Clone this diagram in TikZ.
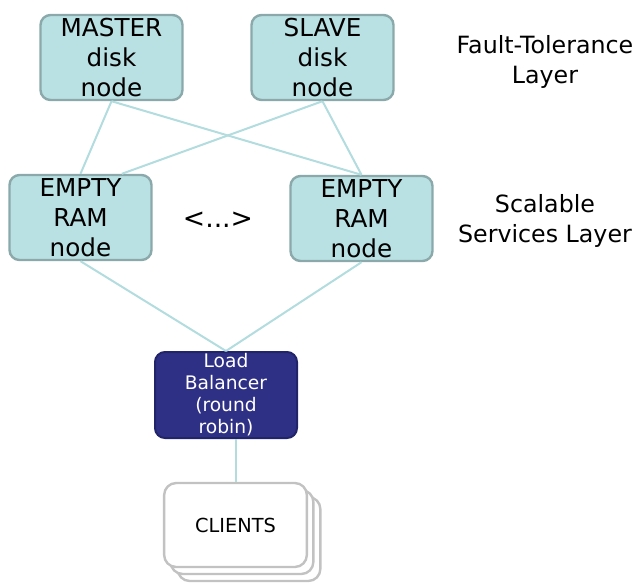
\documentclass[tikz,border=0pt]{standalone}
\usepackage{fontspec}
\setmainfont{DejaVu Sans}
\usetikzlibrary{calc}
\definecolor{boxfill}{HTML}{B9E0E2}
\definecolor{boxline}{HTML}{8BA9AB}
\definecolor{linkcol}{HTML}{B3DCDF}
\definecolor{lbfill}{HTML}{2E3085}
\definecolor{lbline}{HTML}{22246A}
\definecolor{clline}{HTML}{C2C2C2}
\tikzset{
  tealbox/.style={draw=boxline, fill=boxfill, line width=1.8pt, rounded corners=7.5pt,
    minimum width=106.5pt, minimum height=63.75pt, inner sep=0pt, align=center,
    font=\fontsize{18.5}{22.5}\selectfont},
  lbbox/.style={draw=lbline, fill=lbfill, line width=1.5pt, rounded corners=7.5pt,
    minimum width=106.5pt, minimum height=64.5pt, inner sep=0pt, align=center,
    text=white, font=\fontsize{14}{16.5}\selectfont},
  clientbox/.style={draw=clline, fill=white, line width=1.8pt, rounded corners=9pt,
    minimum width=107pt, minimum height=63pt, inner sep=0pt,
    font=\fontsize{14.5}{17}\selectfont},
  layerlabel/.style={align=center, inner sep=0pt, font=\fontsize{17.8}{22.5}\selectfont},
  link/.style={draw=linkcol, line width=1.5pt}
}
\begin{document}
\begin{tikzpicture}[x=0.75pt, y=-0.75pt]
		%%%%% START %%%%%
		\useasboundingbox (0, 0) rectangle (640, 583);
		
		\node[tealbox] (master) at (111.5, 57.5) {MASTER\\disk\\node};
		\node[tealbox] (slave) at (322.5, 57.5) {SLAVE\\disk\\node};
		
		\node[tealbox] (ramA) at (80.5, 217.5) {EMPTY\\RAM\\node};
		\node[tealbox] (ramB) at (361.5, 218.5) {EMPTY\\RAM\\node};
		\node[font=\fontsize{20}{22}\selectfont] (dots) at (218, 220) {<...>};
		
		\node[layerlabel] (ftl) at (545, 62) {Fault-Tolerance\\Layer};
		\node[layerlabel] (ssl) at (545, 221) {Scalable\\Services Layer};
		
		\node[lbbox] (lb) at (226, 395) {Load\\Balancer\\(round\\robin)};
		
		\node[clientbox] (cl3) at (249, 539) {};
		\node[clientbox] (cl2) at (242, 532) {};
		\node[clientbox] (cl) at (235.5, 525) {CLIENTS};
		
		\draw[link] (master.south) -- (ramA.north);
		\draw[link] (master.south) -- (ramB.north);
		\draw[link] (slave.south) -- ([xshift=31pt]ramA.north);
		\draw[link] (slave.south) -- (ramB.north);
		\draw[link] (ramA.south) -- (lb.north);
		\draw[link] (ramB.south) -- (lb.north);
		\draw[link] (lb.south -| cl.north) -- (cl.north);
		
		%%%%% END %%%%%
	\end{tikzpicture}
\end{document}
